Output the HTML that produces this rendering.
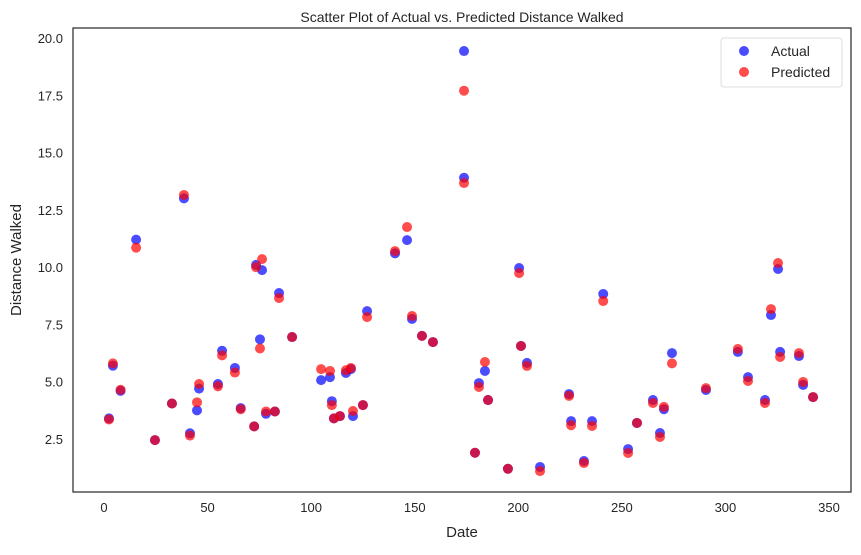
<!DOCTYPE html>
<html><head><meta charset="utf-8"><style>
body{margin:0;background:#fff;font-family:"Liberation Sans",sans-serif}
text{font-family:"Liberation Sans",sans-serif;fill:#262626}
</style></head><body>
<svg id="chart" width="861" height="550" xmlns="http://www.w3.org/2000/svg">
<text x="462" y="22" font-size="14" text-anchor="middle">Scatter Plot of Actual vs. Predicted Distance Walked</text>
<g id="xticks"></g>
<g id="yticks"></g>
<g id="marks"></g>
<rect x="73" y="28" width="778" height="464" fill="none" stroke="#262626" stroke-width="1.2"/>
<text x="462" y="537" font-size="15" text-anchor="middle">Date</text>
<text transform="translate(21,260) rotate(-90)" font-size="15" text-anchor="middle">Distance Walked</text>
<g>
<rect x="721" y="38" width="121" height="49" rx="3" fill="#fff" stroke="#ddd"/>
<g><circle cx="744" cy="51" r="5" fill="#0000ff" fill-opacity="0.7"/><text x="771" y="56" font-size="14">Actual</text></g>
<g><circle cx="744" cy="72" r="5" fill="#ff0000" fill-opacity="0.7"/><text x="771" y="77" font-size="14">Predicted</text></g>
</g>
</svg>
<script>
const dates=[2.4,4.3,8,15.5,24.6,32.8,38.6,41.5,44.9,45.9,55,57,63.2,66,72.5,73.4,76.3,75.3,78.2,82.5,84.5,90.8,104.8,109.1,110,111,113.9,116.8,119.2,120.2,125,127,140.5,146.3,148.7,153.5,158.8,173.8,173.8,179.1,181,183.9,185.4,195,201.3,200.4,204.2,210.5,224.5,225.5,231.7,235.6,241,253,257.3,265,268.4,270.3,274.2,290.6,306,310.9,319.1,322,325.4,326.4,335.5,337.5,342.3];
const actual=[3.4,5.7,4.6,11.2,2.45,4.05,13.0,2.75,3.75,4.7,4.9,6.35,5.6,3.85,3.05,10.1,9.87,6.85,3.6,3.7,8.87,6.95,5.07,5.2,4.15,3.4,3.5,5.38,5.55,3.5,3.98,8.08,10.6,11.18,7.74,7.0,6.73,13.9,19.43,1.9,4.94,5.47,4.2,1.2,6.56,9.96,5.82,1.28,4.46,3.28,1.54,3.28,8.83,2.06,3.2,4.2,2.76,3.8,6.25,4.64,6.3,5.2,4.2,7.91,9.92,6.3,6.12,4.86,4.33];
const predicted=[3.35,5.8,4.65,10.85,2.45,4.05,13.15,2.65,4.1,4.9,4.8,6.15,5.4,3.8,3.05,10.0,10.35,6.45,3.7,3.7,8.65,6.95,5.55,5.47,3.98,3.4,3.5,5.5,5.6,3.72,3.98,7.82,10.7,11.75,7.87,7.0,6.73,13.67,17.7,1.9,4.77,5.86,4.2,1.2,6.56,9.74,5.69,1.1,4.38,3.1,1.45,3.07,8.52,1.89,3.2,4.07,2.59,3.9,5.8,4.72,6.43,5.03,4.07,8.17,10.18,6.08,6.25,4.99,4.33];
const xTicks=[0,50,100,150,200,250,300,350];
const yTicks=[2.5,5.0,7.5,10.0,12.5,15.0,17.5,20.0];
const NS="http://www.w3.org/2000/svg";
function xs(v){return 104+v*725/350;}
function ys(v){return 439-(v-2.5)*401/17.5;}
const gx=document.getElementById('xticks'),gy=document.getElementById('yticks'),gm=document.getElementById('marks');
xTicks.forEach(t=>{const e=document.createElementNS(NS,'text');


e.setAttribute('x',xs(t));e.setAttribute('y',512);e.setAttribute('font-size','13');e.setAttribute('text-anchor','middle');e.textContent=t;gx.appendChild(e);});
yTicks.forEach(t=>{const e=document.createElementNS(NS,'text');


e.setAttribute('x',63);e.setAttribute('y',ys(t)+5);e.setAttribute('font-size','13');e.setAttribute('text-anchor','end');e.textContent=t.toFixed(1);gy.appendChild(e);});
function dot(x,y,c,name){const e=document.createElementNS(NS,'circle');


e.setAttribute('cx',xs(x));e.setAttribute('cy',ys(y));e.setAttribute('r',5);e.setAttribute('fill',c);e.setAttribute('fill-opacity','0.7');gm.appendChild(e);}
dates.forEach((d,i)=>dot(d,actual[i],'#0000ff','actual-point'));
dates.forEach((d,i)=>dot(d,predicted[i],'#ff0000','predicted-point'));
</script>
</body></html>
